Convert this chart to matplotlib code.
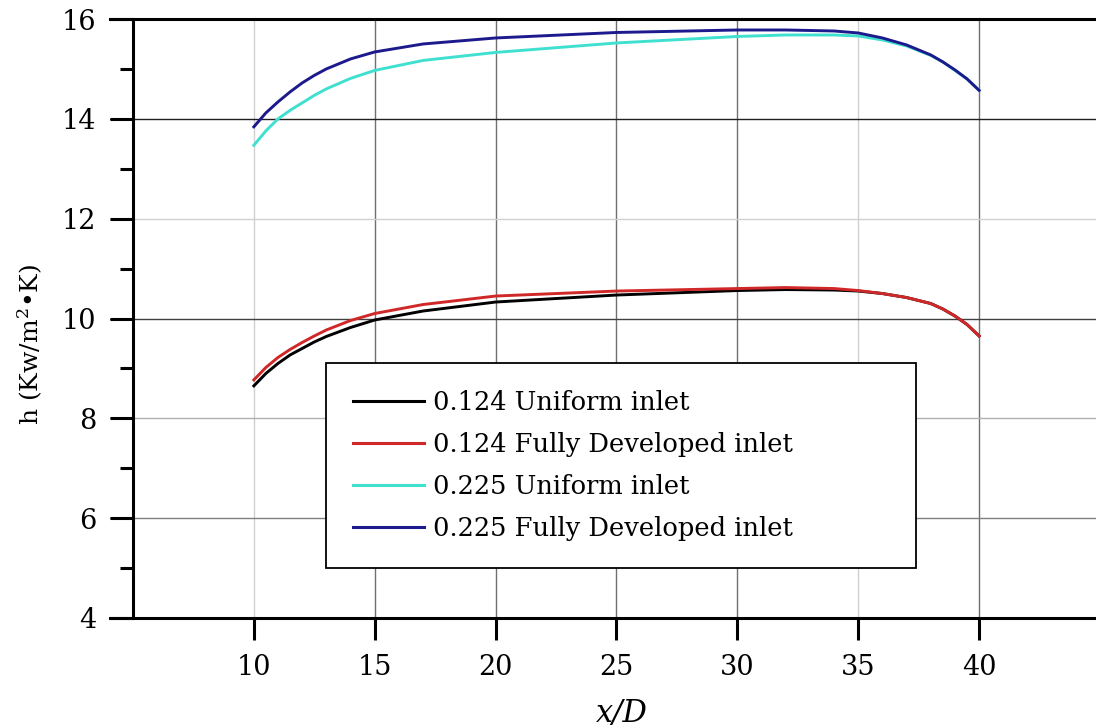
import numpy as np
import matplotlib
matplotlib.use("Agg")
import matplotlib.pyplot as plt
from matplotlib import rcParams

rcParams["font.family"] = ["DejaVu Serif", "DejaVu Sans"]
rcParams["mathtext.fontset"] = "dejavuserif"

tickLabelSize = 19.5
legendSize = 18.5
axesLabelSize = 18

# values
xD = [10, 10.5, 11, 11.5, 12, 12.5, 13, 14, 15, 17, 20, 25, 30, 32, 34, 35, 36, 37, 38, 38.5, 39, 39.5, 40]
uniform124 = [8.65, 8.90, 9.10, 9.27, 9.40, 9.53, 9.64, 9.82, 9.97, 10.15, 10.33, 10.47, 10.56, 10.58, 10.57, 10.55, 10.50, 10.42, 10.30, 10.19, 10.05, 9.88, 9.65]
developed124 = [8.77, 9.02, 9.22, 9.38, 9.52, 9.65, 9.77, 9.96, 10.10, 10.28, 10.45, 10.55, 10.60, 10.62, 10.60, 10.56, 10.50, 10.42, 10.30, 10.19, 10.05, 9.88, 9.65]
uniform225 = [13.47, 13.76, 14.00, 14.17, 14.32, 14.47, 14.60, 14.81, 14.97, 15.17, 15.33, 15.52, 15.65, 15.68, 15.68, 15.66, 15.58, 15.46, 15.27, 15.14, 14.97, 14.80, 14.57]
developed225 = [13.84, 14.12, 14.34, 14.54, 14.72, 14.87, 15.00, 15.20, 15.34, 15.50, 15.62, 15.73, 15.78, 15.78, 15.76, 15.72, 15.62, 15.48, 15.28, 15.14, 14.98, 14.80, 14.57]

labels = ["0.124 Uniform inlet", "0.124 Fully Developed inlet",
          "0.225 Uniform inlet", "0.225 Fully Developed inlet"]
colors = ["#000000", "#d02828", "#40e0d0", "#1c1a8c"]

xTicks = [10, 15, 20, 25, 30, 35, 40]
yTicks = [4, 6, 8, 10, 12, 14, 16]

fig = plt.figure(figsize=(10.96, 7.28), dpi=100)
ax = fig.add_axes([110/1096, 110/728, 990/1096, 599/728])

for series, lab, col in zip([uniform124, developed124, uniform225, developed225], labels, colors):
    ax.plot(xD, series, color=col, lw=2.1, label=lab, zorder=3)

ax.set_xlim(4.05, 45)
ax.set_ylim(4, 16)
ax.set_xticks(xTicks)
ax.set_yticks(yTicks)
ax.set_yticks([5, 7, 9, 11, 13, 15], minor=True)

ax.spines["left"].set_position(("data", 5))
ax.spines["right"].set_visible(False)
for s in ["left", "top", "bottom"]:
    ax.spines[s].set_linewidth(2.2)

ax.tick_params(axis="x", which="major", direction="out", length=16, width=2.2, labelsize=tickLabelSize, pad=10)
ax.tick_params(axis="y", which="major", direction="out", length=16.5, width=2.2, labelsize=tickLabelSize, pad=10)
ax.tick_params(axis="y", which="minor", direction="out", length=9.5, width=2.2)

ax.grid(True, which="major", lw=1.0)
vcols = ["#d0d0d0", "#707070", "#707070", "#707070", "#707070", "#d0d0d0", "#707070"]
hcols = ["#808080", "#808080", "#b0b0b0", "#404040", "#d0d0d0", "#202020", "#202020"]
for gl, c in zip(ax.get_xgridlines(), vcols):
    gl.set_color(c)
for gl, c in zip(ax.get_ygridlines(), hcols):
    gl.set_color(c)

ax.set_xlabel("x/D", fontsize=22, style="italic")
ax.set_ylabel("h (Kw/m$^2$•K)", fontsize=axesLabelSize)
ax.xaxis.set_label_coords(0.517, -0.134)
ax.yaxis.set_label_coords(-0.066, 0.457)

leg = ax.legend(loc="lower left", bbox_to_anchor=(0.2182, 0.0835, 0.596, 0.3), mode="expand",
                borderaxespad=0, fontsize=legendSize, fancybox=False, framealpha=1,
                edgecolor="black", handlelength=2.75, handletextpad=0.35,
                labelspacing=0.66, borderpad=1.05)
leg.get_frame().set_linewidth(1.3)
for line in leg.get_lines():
    line.set_linewidth(2.2)

plt.savefig("out.png", dpi=100)
